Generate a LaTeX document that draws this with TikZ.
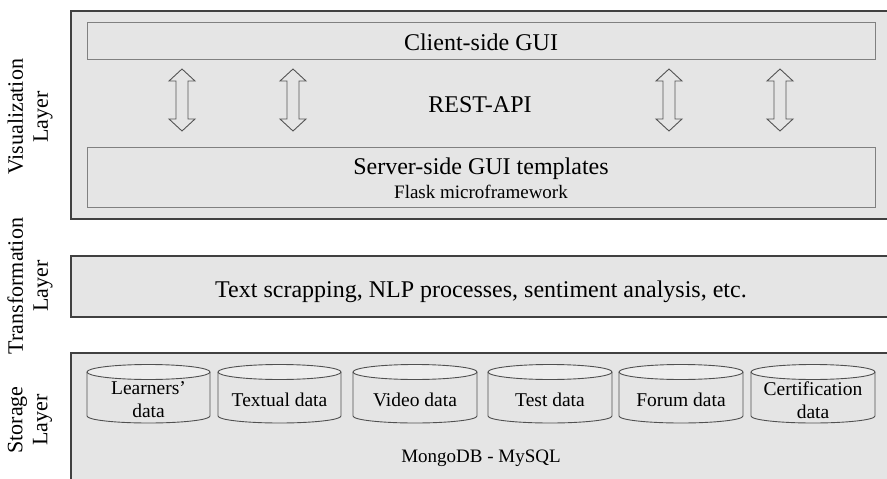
\documentclass[tikz,border=0pt]{standalone}
\usepackage{fontspec}
\setmainfont{Liberation Serif}
\definecolor{layerfill}{HTML}{E5E5E5}
\definecolor{layerline}{HTML}{404040}
\definecolor{innerline}{HTML}{808080}
\definecolor{cyltop}{HTML}{EDEDED}
\definecolor{cylline}{HTML}{505050}
\definecolor{arrline}{HTML}{555555}
\tikzset{
  layerbox/.style={fill=layerfill, draw=layerline, line width=2pt},
  innerbox/.style={fill=layerfill, draw=innerline, line width=1pt},
  sidelabel/.style={rotate=90, align=center, inner sep=0pt, font=\fontsize{22}{25}\selectfont},
  bigtext/.style={anchor=base, inner sep=0pt, font=\fontsize{24}{28}\selectfont},
  midtext/.style={anchor=base, inner sep=0pt, font=\fontsize{19}{23}\selectfont},
  cyltext/.style={align=center, inner sep=0pt, font=\fontsize{19.5}{23}\selectfont},
  cylbody/.style={fill=layerfill, draw=cylline, line width=0.9pt},
  cyllid/.style={fill=cyltop, draw=cylline, line width=0.9pt},
  dblarrow/.style={fill=layerfill, draw=arrline, line width=0.9pt, line join=miter}
}
\begin{document}
\begin{tikzpicture}[x=1pt,y=-1pt]
\clip (0,0) rectangle (887,479);
\fill[white] (0,0) rectangle (887,479);

% layer boxes
\draw[layerbox] (71,11) rectangle (900,219);
\draw[layerbox] (71,256) rectangle (900,317);
\draw[layerbox] (71,353) rectangle (900,500);

% visualization layer content
\draw[innerbox] (87,22) rectangle (875,59);
\draw[innerbox] (87,147) rectangle (875,207);
\node[bigtext] (client) at (481,50) {Client-side GUI};
\node[bigtext] (rest) at (480,112) {REST-API};
\node[bigtext] (server) at (481,174) {Server-side GUI templates};
\node[midtext] (flask) at (481,198) {Flask microframework};

\foreach \cx in {182,293,669,780}{
  \draw[dblarrow] (\cx,69) -- (\cx+13,81) -- (\cx+6,81) -- (\cx+6,119) -- (\cx+13,119)
     -- (\cx,131) -- (\cx-13,119) -- (\cx-6,119) -- (\cx-6,81) -- (\cx-13,81) -- cycle;
}

% transformation layer
\node[bigtext] (trans) at (481,297) {Text scrapping, NLP processes, sentiment analysis, etc.};

% storage layer cylinders
\foreach \a/\b in {87/210,218/341,353/477,488/612,619/743,751/875}{
  \pgfmathsetmacro{\rx}{(\b-\a)/2}
  \pgfmathsetmacro{\cxx}{(\b+\a)/2}
  \fill[layerfill] (\a,372) -- (\a,416) arc[start angle=180,end angle=0,x radius=\rx,y radius=7] -- (\b,372) -- cycle;
  \draw[cylline, line width=0.9pt] (\a,372) -- (\a,416) arc[start angle=180,end angle=0,x radius=\rx,y radius=7] -- (\b,372);
  \draw[cyllid] (\cxx,372) ellipse[x radius=\rx, y radius=7.5];
}
\node[cyltext] (learners) at (148.5,400) {Learners’\\data};
\node[cyltext] (textual) at (279.5,400) {Textual data};
\node[cyltext] (video) at (415,400) {Video data};
\node[cyltext] (test) at (550,400) {Test data};
\node[cyltext] (forum) at (681,400) {Forum data};
\node[cyltext] (cert) at (813,400) {Certification\\data};
\node[midtext] (mongo) at (481,462) {MongoDB - MySQL};

% side labels
\node[sidelabel] (vislab) at (30,117) {Visualization\\Layer};
\node[sidelabel] (translab) at (30,286) {Transformation\\Layer};
\node[sidelabel] (storlab) at (30,420) {Storage\\Layer};
\end{tikzpicture}
\end{document}
